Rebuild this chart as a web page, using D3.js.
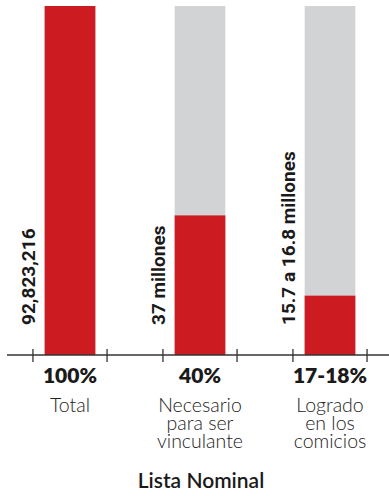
<!DOCTYPE html>
<html>
<head>
<meta charset="utf-8">
<script src="https://cdn.jsdelivr.net/npm/d3@7"></script>
<style>
  body { margin: 0; background: #fff; }
  svg { display: block; }
</style>
</head>
<body>
<div id="chart"></div>
<script>
// data
const categories = ["Total", "Necesario para ser vinculante", "Logrado en los comicios"];
const labelLines = [["Total"], ["Necesario", "para ser", "vinculante"], ["Logrado", "en los", "comicios"]];
const percentLabels = ["100%", "40%", "17-18%"];
const percentValues = [100, 40, 17];
const valueLabels = ["92,823,216", "37 millones", "15.7 a 16.8 millones"];
const axisTitle = "Lista Nominal";

const width = 389,
    height = 496,
    red = "#cd1b22",
    grey = "#d1d3d4",
    ink = "#1a1a1a";

let svg = d3.select("#chart").append("svg")
    .attr("width", width)
    .attr("height", height);

// scales
let x = d3.scaleBand()
    .domain(categories)
    .range([5, 395])
    .padding(0);

let y = d3.scaleLinear()
    .domain([0, 100])
    .range([355, 6]);

let barW = x.bandwidth() * 0.39;
let cx = d => x(d) + x.bandwidth() / 2;

// background bars
svg.selectAll(".bg")
    .data(categories)
    .enter()
    .append("rect")
        .attr("class", "bg")
        .attr("x", d => cx(d) - barW / 2)
        .attr("width", barW)
        .attr("y", y(100))
        .attr("height", y(0) - y(100))
        .attr("fill", grey);

// value bars
svg.selectAll(".bar")
    .data(categories)
    .enter()
    .append("rect")
        .attr("class", "bar")
        .attr("x", d => cx(d) - barW / 2)
        .attr("width", barW)
        .attr("y", (d, i) => y(percentValues[i]))
        .attr("height", (d, i) => y(0) - y(percentValues[i]))
        .attr("fill", red);

// axis line + ticks
svg.append("line")
    .attr("x1", 7).attr("x2", width)
    .attr("y1", y(0)).attr("y2", y(0))
    .attr("stroke", "#333").attr("stroke-width", 1.3);

let tickOff = x.bandwidth() * 0.285;
let tickXs = categories.flatMap(d => [cx(d) - tickOff, cx(d) + tickOff]);
svg.selectAll(".tick")
    .data(tickXs)
    .enter()
    .append("line")
        .attr("x1", d => d).attr("x2", d => d)
        .attr("y1", y(0) - 6).attr("y2", y(0) + 7)
        .attr("stroke", "#333").attr("stroke-width", 1.3);

// rotated value labels
svg.selectAll(".vlabel")
    .data(categories)
    .enter()
    .append("text")
        .attr("class", "vlabel")
        .attr("transform", d => `translate(${cx(d) - 35},${y(0) - 30}) rotate(-90)`)
        .attr("font-family", "'Liberation Sans Narrow', 'Roboto', sans-serif")
        .attr("font-weight", 700)
        .attr("font-size", 19)
        .attr("fill", ink)
        .text((d, i) => valueLabels[i]);

// percent labels
svg.selectAll(".plabel")
    .data(categories)
    .enter()
    .append("text")
        .attr("x", d => cx(d))
        .attr("y", 383)
        .attr("text-anchor", "middle")
        .attr("font-family", "Lato, 'Open Sans', sans-serif")
        .attr("font-weight", 800)
        .attr("font-size", 21)
        .attr("fill", ink)
        .text((d, i) => percentLabels[i]);

// category labels
let cl = svg.selectAll(".clabel")
    .data(categories)
    .enter()
    .append("text")
        .attr("text-anchor", "middle")
        .attr("font-family", "Lato, 'Open Sans', sans-serif")
        .attr("font-weight", 300)
        .attr("font-size", 19.5)
        .attr("fill", "#222");

cl.selectAll("tspan")
    .data((d, i) => labelLines[i].map(t => ({ t: t, c: d })))
    .enter()
    .append("tspan")
        .attr("x", d => cx(d.c))
        .attr("y", (d, j) => 412 + j * 18)
        .text(d => d.t);

// axis title
svg.append("text")
    .attr("x", 201)
    .attr("y", 488)
    .attr("text-anchor", "middle")
    .attr("font-family", "Lato, 'Open Sans', sans-serif")
    .attr("font-weight", 600)
    .attr("font-size", 21)
    .attr("fill", ink)
    .text(axisTitle);
</script>
</body>
</html>
